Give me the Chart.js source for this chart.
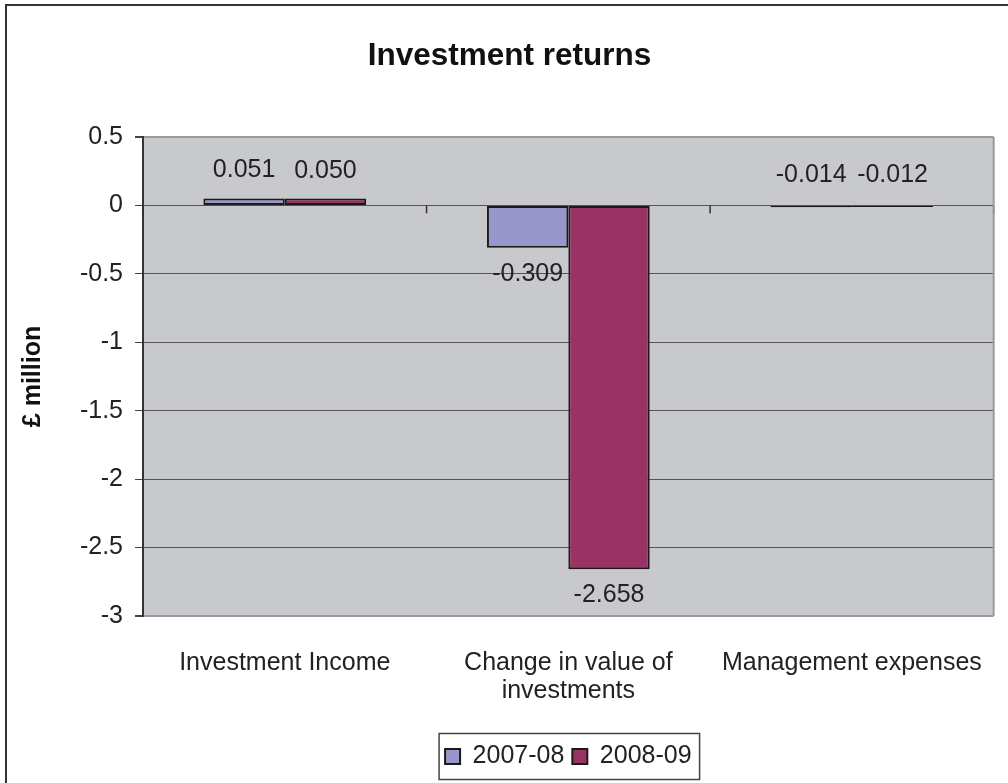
<!DOCTYPE html>
<html>
<head>
<meta charset="utf-8">
<title>Investment returns</title>
<script src="https://cdn.jsdelivr.net/npm/chart.js@4.4.0/dist/chart.umd.min.js"></script>
<style>
  html, body { margin: 0; padding: 0; background: #fff; }
  #wrap { width: 1008px; height: 783px; position: relative; overflow: hidden; }
</style>
</head>
<body>
<div id="wrap"><canvas id="returnsChart" width="1008" height="783"></canvas></div>
<script>
const categories = [['Investment Income'], ['Change in value of', 'investments'], ['Management expenses']];
const seriesNames = ['2007-08', '2008-09'];
const values0708 = [0.051, -0.309, -0.014];
const values0809 = [0.050, -2.658, -0.012];
const yMin = -3;
const yMax = 0.5;
const yStep = 0.5;

const FONT = '"Liberation Sans", Arial, Helvetica, sans-serif';
Chart.defaults.font.family = FONT;
Chart.defaults.color = '#222';

// plot background, outer frame, right edge of the plot
const framePlugin = {
  id: 'framePlugin',
  beforeDraw(chart) {
    const { ctx, chartArea: a } = chart;
    ctx.save();
    ctx.fillStyle = '#c8c9cc';
    ctx.fillRect(a.left, a.top, a.right - a.left, a.bottom - a.top);
    ctx.strokeStyle = '#333';
    ctx.lineWidth = 2;
    ctx.beginPath();
    ctx.moveTo(6, 800);
    ctx.lineTo(6, 5);
    ctx.lineTo(1020, 5);
    ctx.stroke();
    ctx.restore();
  },
  afterDraw(chart) {
    const { ctx, chartArea: a } = chart;
    ctx.save();
    ctx.strokeStyle = '#9a9a9a';
    ctx.lineWidth = 2;
    ctx.beginPath();
    ctx.moveTo(a.right, a.top);
    ctx.lineTo(a.right, a.bottom);
    ctx.stroke();

    // box round the legend
    const boxes = chart.legend.legendHitBoxes;
    if (boxes && boxes.length) {
      const first = boxes[0];
      const last = boxes[boxes.length - 1];
      const cy = first.top + first.height / 2;
      const left = first.left - 6;
      const right = last.left + last.width + 8;
      ctx.strokeStyle = '#444';
      ctx.lineWidth = 1.5;
      ctx.strokeRect(left, cy - 23, right - left, 46);
    }
    ctx.restore();
  }
};

// category tick marks on the zero line and value labels
const labelPlugin = {
  id: 'labelPlugin',
  afterDatasetsDraw(chart) {
    const { ctx } = chart;
    const xs = chart.scales.x;
    const y0 = chart.scales.y.getPixelForValue(0);
    ctx.save();
    ctx.strokeStyle = '#333';
    ctx.lineWidth = 1.5;
    for (let i = 0; i <= categories.length; i++) {
      const px = xs.getPixelForValue(i - 0.5);
      ctx.beginPath();
      ctx.moveTo(px, y0);
      ctx.lineTo(px, y0 + 8);
      ctx.stroke();
    }

    ctx.font = '25px ' + FONT;
    ctx.fillStyle = '#222';
    ctx.textAlign = 'center';
    ctx.textBaseline = 'alphabetic';
    chart.data.datasets.forEach((ds, di) => {
      chart.getDatasetMeta(di).data.forEach((bar, i) => {
        const v = ds.data[i];
        let ty;
        if (v >= 0) ty = bar.y - 21;
        else if (bar.y - bar.base < 10) ty = bar.base - 24;
        else ty = bar.y + 33;
        ctx.fillText(v.toFixed(3), bar.x, ty);
      });
    });
    ctx.restore();
  }
};

const edgeTick = v => v === yMax || v === yMin;

new Chart(document.getElementById('returnsChart'), {
  type: 'bar',
  data: {
    labels: categories,
    datasets: [
      {
        label: seriesNames[0],
        data: values0708,
        backgroundColor: '#9797cb',
        borderColor: '#1a1a1a',
        borderWidth: 2,
        borderSkipped: false,
        categoryPercentage: 0.574,
        barPercentage: 1
      },
      {
        label: seriesNames[1],
        data: values0809,
        backgroundColor: '#993366',
        borderColor: '#1a1a1a',
        borderWidth: 2,
        borderSkipped: false,
        categoryPercentage: 0.574,
        barPercentage: 1
      }
    ]
  },
  options: {
    responsive: false,
    animation: false,
    devicePixelRatio: 1,
    layout: { padding: { left: 18, right: 7, top: 0, bottom: 4 } },
    plugins: {
      title: {
        display: true,
        text: 'Investment returns',
        color: '#111',
        font: { size: 31.5, weight: 'bold', lineHeight: 1.2 },
        padding: { top: 37, bottom: 62.2 }
      },
      legend: {
        position: 'bottom',
        fullSize: false,
        labels: {
          color: '#222',
          font: { size: 25 },
          boxWidth: 15,
          boxHeight: 15,
          padding: 8
        }
      },
      tooltip: { enabled: false }
    },
    scales: {
      x: {
        grid: { display: false },
        border: { display: false },
        ticks: {
          color: '#222',
          font: { size: 25, lineHeight: 1.12 },
          padding: 25,
          maxRotation: 0,
          autoSkip: false
        },
        afterFit(scale) { scale.height = 120; }
      },
      y: {
        min: yMin,
        max: yMax,
        ticks: {
          stepSize: yStep,
          color: '#222',
          font: { size: 25 },
          padding: 12,
          callback: v => String(Math.round(v * 10) / 10)
        },
        grid: {
          color: c => edgeTick(c.tick.value) ? '#9a9a9a' : '#555',
          lineWidth: c => edgeTick(c.tick.value) ? 2 : 1,
          tickColor: '#444',
          tickLength: 8
        },
        border: { display: true, color: '#333', width: 2 },
        title: {
          display: true,
          text: '£ million',
          color: '#111',
          font: { size: 25, weight: 'bold', lineHeight: 1.2 },
          padding: { top: 0, bottom: 0 }
        },
        afterFit(scale) { scale.width = 125; }
      }
    }
  },
  plugins: [framePlugin, labelPlugin]
});
</script>
</body>
</html>
